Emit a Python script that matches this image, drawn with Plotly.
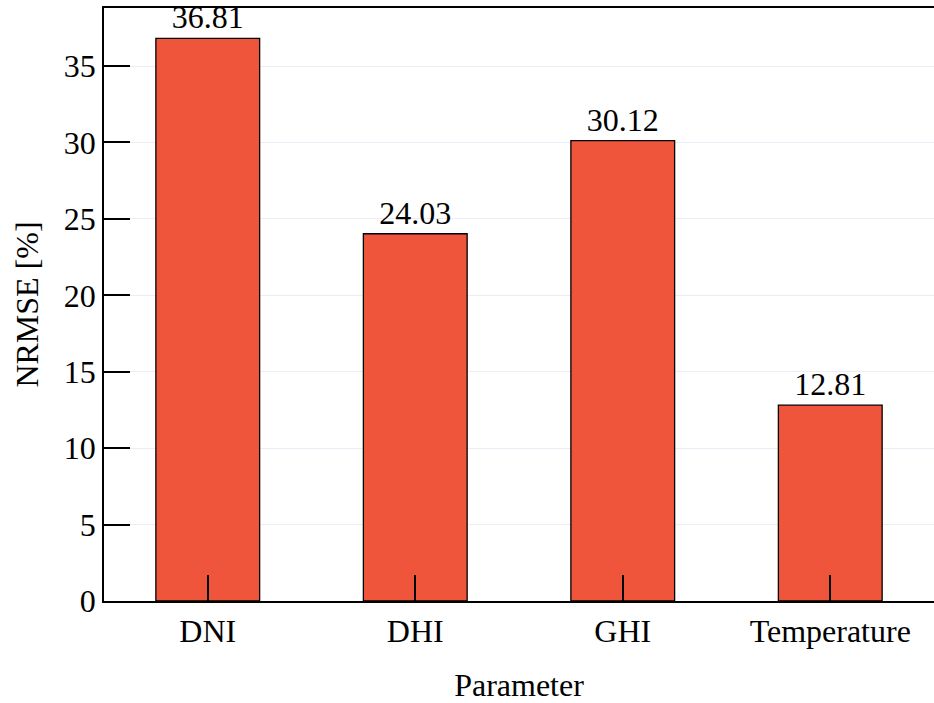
import plotly.graph_objects as go

categories = ["DNI", "DHI", "GHI", "Temperature"]
nrmse = [36.81, 24.03, 30.12, 12.81]
labels = ["36.81", "24.03", "30.12", "12.81"]
y_ticks = [0, 5, 10, 15, 20, 25, 30, 35]

FONT = "Liberation Serif"

fig = go.Figure(
    go.Bar(
        x=categories,
        y=nrmse,
        text=labels,
        textposition="outside",
        textfont=dict(family=FONT, size=32, color="black"),
        cliponaxis=False,
        width=0.5,
        marker=dict(color="#EF553B", line=dict(color="black", width=1.3)),
    )
)

fig.update_layout(
    width=934,
    height=703,
    margin=dict(l=104, r=0, t=8, b=102),
    plot_bgcolor="white",
    paper_bgcolor="white",
    font=dict(family=FONT, size=32, color="black"),
    showlegend=False,
)

fig.update_xaxes(
    range=[-0.5, 3.5],
    showline=True,
    linecolor="black",
    linewidth=1.5,
    mirror=True,
    ticks="inside",
    ticklen=26,
    tickwidth=1.5,
    tickcolor="black",
    showgrid=False,
    tickfont=dict(family=FONT, size=32),
    ticklabelstandoff=1,
    title=dict(text="Parameter", font=dict(family=FONT, size=32), standoff=25),
)

fig.update_yaxes(
    range=[0, 38.8],
    tickvals=y_ticks,
    showline=True,
    linecolor="black",
    linewidth=1.5,
    ticks="inside",
    ticklen=26,
    tickwidth=1.5,
    tickcolor="black",
    showgrid=True,
    gridcolor="#e8eef7",
    gridwidth=1,
    zeroline=False,
    tickfont=dict(family=FONT, size=32),
    title=dict(text="NRMSE [%]", font=dict(family=FONT, size=32), standoff=16),
)

fig.write_html(
    "out.html",
    config={"displayModeBar": False},
    post_script="document.body.style.margin='0';document.body.style.overflow='hidden';",
)
